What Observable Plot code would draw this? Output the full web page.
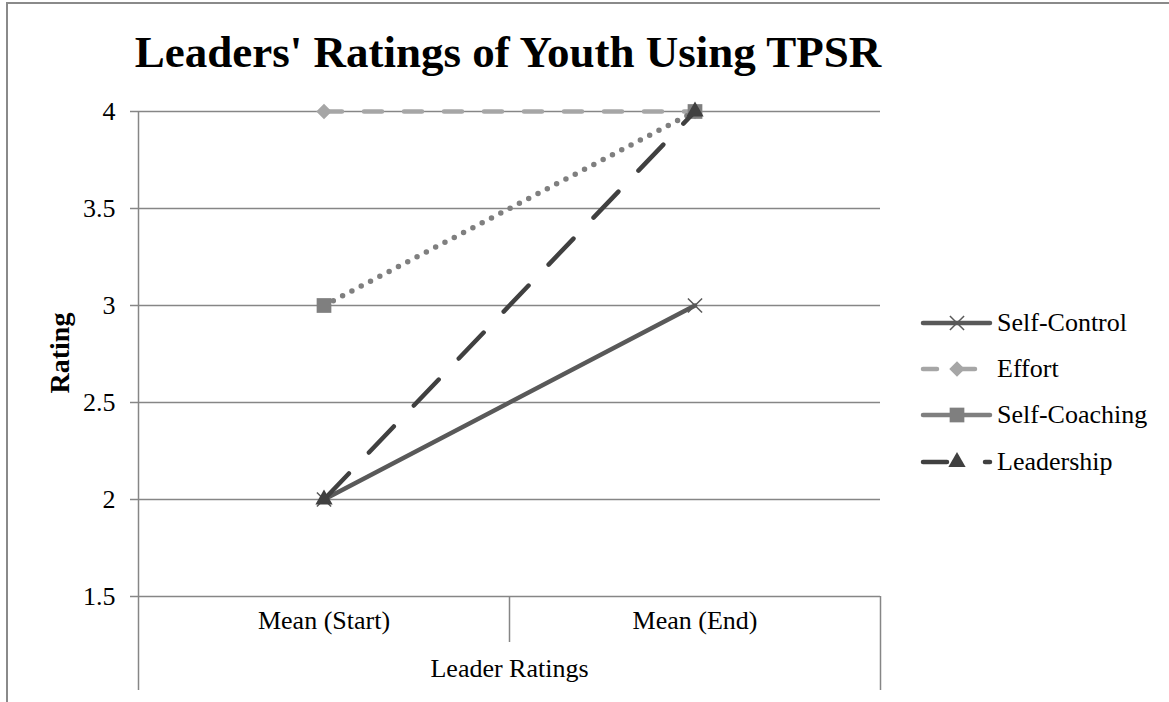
<!DOCTYPE html>
<html>
<head>
<meta charset="utf-8">
<script src="https://cdn.jsdelivr.net/npm/d3@7"></script>
<script src="https://cdn.jsdelivr.net/npm/@observablehq/plot@0.6"></script>
<style>
  html, body { margin: 0; padding: 0; background: #fff; overflow: hidden; }
  #wrap { position: relative; width: 1169px; height: 702px; overflow: hidden; font-family: "Liberation Serif", "Times New Roman", serif; color: #000; }
  #border { position: absolute; left: 6px; top: 2px; width: 1300px; height: 900px; border-left: 2px solid #8a8a8a; border-top: 2px solid #8a8a8a; }
  #chart { position: absolute; left: 0; top: 0; }
  #title { position: absolute; left: 0; top: 30px; width: 1016px; text-align: center; font-size: 45px; line-height: 45px; font-weight: bold; white-space: nowrap; }
  #ylabel { position: absolute; left: 60px; top: 353px; transform: translate(-50%, -50%) rotate(-90deg); font-size: 28px; line-height: 28px; font-weight: bold; white-space: nowrap; }
  .lg-row { position: absolute; left: 918px; height: 26px; }
  .lg-row svg { position: absolute; left: 0; top: 0; }
  .lg-row span { position: absolute; left: 79px; top: 0; font-size: 26px; line-height: 26px; white-space: nowrap; }
</style>
</head>
<body>
<div id="wrap">
  <div id="border"></div>
  <div id="chart"></div>
  <div id="title"></div>
  <div id="ylabel"></div>
  <div id="legend"></div>
</div>
<script>
// ---- data ----
const chartTitle = "Leaders' Ratings of Youth Using TPSR";
const yAxisTitle = "Rating";
const xAxisTitle = "Leader Ratings";
const categories = ["Mean (Start)", "Mean (End)"];
const seriesNames = ["Self-Control", "Effort", "Self-Coaching", "Leadership"];
const selfControl = [2, 3];
const effort = [4, 4];
const selfCoaching = [3, 4];
const leadership = [2, 4];
const yTicks = [1.5, 2, 2.5, 3, 3.5, 4];

// ---- styles ----
const seriesValues = [selfControl, effort, selfCoaching, leadership];
const styles = [
  {color: "#595959", width: 4.5, dash: null, legendDash: null, symbol: "times", r: 6.5, stroked: true},
  {color: "#a6a6a6", width: 4.5, dash: "18,22", legendDash: "14,24", symbol: "diamond2", r: 7, stroked: false},
  {color: "#7f7f7f", width: 5.5, dash: "0,10.5", legendDash: null, symbol: "square", r: 8.3, stroked: false},
  {color: "#404040", width: 4.5, dash: "36,29", legendDash: "24,38", symbol: "triangle", r: 6.4, stroked: false}
];
const gridColor = "#868686";

const rows = seriesNames.flatMap((name, s) =>
  categories.map((c, i) => ({series: name, s, xi: i, value: seriesValues[s][i]})));

const marks = [
  Plot.ruleY(yTicks, {stroke: gridColor, strokeWidth: 1.5}),
  Plot.ruleX([-0.5], {stroke: gridColor, strokeWidth: 1.5}),
  Plot.axisY({ticks: yTicks, tickSize: 8, tickPadding: 15, tickFormat: d => String(d), stroke: gridColor, strokeWidth: 1.5, label: null, fontSize: 26}),
  Plot.axisX({ticks: [-0.5, 1.5], tickSize: 94, tickFormat: () => "", stroke: gridColor, strokeWidth: 1.5, label: null}),
  Plot.axisX({ticks: [0.5], tickSize: 46, tickFormat: () => "", stroke: gridColor, strokeWidth: 1.5, label: null}),
  Plot.text(categories, {x: (d, i) => i, frameAnchor: "bottom", dy: 32, fontSize: 26, fill: "#000"}),
  Plot.text([xAxisTitle], {x: [0.5], frameAnchor: "bottom", dy: 80, fontSize: 26, fill: "#000"})
];

seriesNames.forEach((name, s) => {
  const st = styles[s];
  const data = rows.filter(r => r.s === s);
  marks.push(Plot.line(data, {
    x: "xi", y: "value", stroke: st.color, strokeWidth: st.width,
    strokeDasharray: st.dash || undefined, strokeLinecap: "round", strokeLinejoin: "round"
  }));
  marks.push(Plot.dot(data, st.stroked
    ? {x: "xi", y: "value", symbol: st.symbol, r: st.r, stroke: st.color, strokeWidth: 1.5, fill: "none"}
    : {x: "xi", y: "value", symbol: st.symbol, r: st.r, fill: st.color, stroke: "none"}));
});

const chart = Plot.plot({
  width: 1169,
  height: 702,
  marginLeft: 138,
  marginRight: 289,
  marginTop: 111,
  marginBottom: 106,
  style: {fontFamily: "'Liberation Serif', 'Times New Roman', serif", fontSize: "26px", background: "transparent", color: "#000", overflow: "visible"},
  x: {type: "linear", domain: [-0.5, 1.5]},
  y: {type: "linear", domain: [1.5, 4]},
  marks
});
document.getElementById("chart").appendChild(chart);

document.getElementById("title").textContent = chartTitle;
document.getElementById("ylabel").textContent = yAxisTitle;

// ---- legend ----
const legend = document.getElementById("legend");
const legendY = [323, 369, 415, 462];
const symbolMap = {times: d3.symbolTimes, diamond2: d3.symbolDiamond2, square: d3.symbolSquare, triangle: d3.symbolTriangle};
seriesNames.forEach((name, s) => {
  const st = styles[s];
  const row = document.createElement("div");
  row.className = "lg-row";
  row.style.top = (legendY[s] - 13) + "px";
  const ns = "http://www.w3.org/2000/svg";
  const svg = document.createElementNS(ns, "svg");
  svg.setAttribute("width", 80); svg.setAttribute("height", 26);
  const line = document.createElementNS(ns, "line");
  line.setAttribute("x1", 5); line.setAttribute("x2", 72);
  line.setAttribute("y1", 13); line.setAttribute("y2", 13);
  line.setAttribute("stroke", st.color); line.setAttribute("stroke-width", 4.5);
  line.setAttribute("stroke-linecap", "round");
  if (st.legendDash) line.setAttribute("stroke-dasharray", st.legendDash);
  svg.appendChild(line);
  const p = document.createElementNS(ns, "path");
  p.setAttribute("d", d3.symbol(symbolMap[st.symbol], st.r * st.r * Math.PI)());
  p.setAttribute("transform", "translate(39,13)");
  if (st.stroked) { p.setAttribute("stroke", st.color); p.setAttribute("stroke-width", 1.5); p.setAttribute("fill", "none"); }
  else { p.setAttribute("fill", st.color); }
  svg.appendChild(p);
  row.appendChild(svg);
  const span = document.createElement("span");
  span.textContent = name;
  row.appendChild(span);
  legend.appendChild(row);
});
</script>
</body>
</html>
